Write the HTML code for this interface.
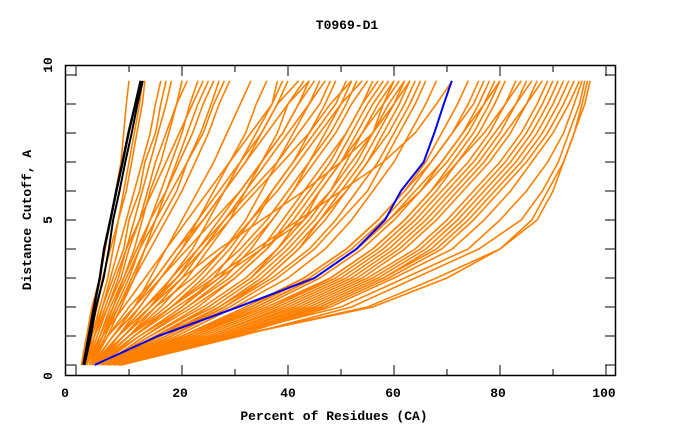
<!DOCTYPE html>
<html><head><meta charset="utf-8"><style>
html,body{margin:0;padding:0;background:#fff;}
svg{display:block;font-family:"Liberation Mono",monospace;font-weight:bold;}
</style></head><body>
<svg id="chart" width="680" height="440" viewBox="0 0 680 440" xmlns="http://www.w3.org/2000/svg">
<text x="347" y="29" font-size="13" text-anchor="middle">T0969-D1</text>
<text x="334" y="420" font-size="13" text-anchor="middle">Percent of Residues (CA)</text>
<text x="0" y="0" font-size="13" text-anchor="middle" transform="translate(31,220) rotate(-90)">Distance Cutoff, A</text>
<g id="lines"></g>
<g id="axes"></g>
</svg>
<script>
const cutoffs=[0,1,2,3,4,5,6,7,8,9,9.8];
const orangeSeries=[
[1,2,3,4.5,5.5,6.5,7.5,8.5,9,9.5,10],
[1.5,3,4.5,6,7,8,9.5,10.5,11.5,12.5,13],
[2,3.5,5,6.5,8,9.5,11,12.5,14,15,16],
[2,4,6,8,9.5,11,12.5,14,15.5,17,18],
[2.5,5,7,9,11,12.5,14,16,17.5,19,20],
[2,4.5,7,9.5,12,14,16,18,20,21.5,23],
[3,6,8.5,11,13,15,17,19.5,22,24,26],
[2.5,5,8,10.5,13,16,19,21,24,26,28],
[3,5.5,8,11,14,17,20,22.5,25,27,29],
[1.5,3.5,5.5,7.5,9.5,12,14.5,17,19.5,22,24],
[2,3,5,7,9,10,12,13,15,16,17],
[1.5,2.5,4,5,6.5,8,9,10,11,12,12.5],
[2,3.5,6,8.5,10,12,13.5,15,17,19,21],
[2.5,4.5,6.5,9,11.5,14,17,19,21,23,25],
[3,5,7.5,10,12,15,18,21,23.5,25.5,27],
[3,7,11,14,17,20,23,26,28.5,31,33],
[3,7,12,16,20,23,26,29,32,34,36],
[3.5,9,14,18,22,25,28,31,35,38,40],
[4,8,12,16,20,24,28,32,35,38,42],
[3.5,10,16,21,25,29,32,35,38,40,43],
[4,10,17,23,28,32,35,38,41,44,47],
[4,12,20,26,30,34,37,41,44,47,49],
[4.5,11,18,24,29,33,37,41,45,49,51],
[5,13,21,28,33,37,41,44,48,51,53],
[4,12,20,27,32,37,41,45,49,52,55],
[5,14,23,30,36,40,44,48,51,54,57],
[5,13,22,30,36,41,45,49,52,55,58],
[5.5,16,25,33,39,44,48,51,54,57,60],
[5,15,26,34,40,45,49,53,56,59,62],
[6,17,27,36,42,47,51,55,59,62,64],
[6,18,29,38,45,50,55,58,61,64,66],
[6,19,30,40,47,52,56,60,63,66,68],
[2,5,9,13,17,21,25,29,33,37,39],
[3,6,10,15,19,24,28,32,36,40,44],
[2.5,6,11,16,21,26,31,35,39,42,45],
[3,8,13,19,24,29,34,39,44,48,52],
[4,10,18,26,34,42,50,58,64,68,71],
[3,8,14,20,27,35,43,50,56,60,62],
[4,11,19,27,35,43,48,52,56,58,60],
[3,9,15,22,28,33,38,42,46,50,54],
[4,11,18,25,31,36,40,44,47,50,52],
[4.5,12,21,29,35,39,43,47,51,54,56],
[5,14,24,32,38,43,46,50,53,56,59],
[5,15,25,33,38,42,46,50,54,58,61],
[5.5,17,28,37,44,49,53,57,60,63,65],
[3.5,8,13,18,23,28,33,38,42,46,48],
[4,9,14,19,23,27,31,35,39,42,44],
[3,7,11,15,19,23,27,31,34,37,38],
[4,10,15,20,24,28,32,36,40,44,46],
[6,18,28,36,42,46,50,54,57,60,63],
[5,16,27,35,41,46,51,55,58,61,63],
[7,20,32,43,51,57,62,66,69,72,74],
[6,20,33,44,52,58,63,67,71,74,76],
[7,22,35,46,54,60,65,69,73,76,78],
[7,22,36,48,56,62,67,71,75,78,80],
[8,23,37,49,57,63,68,72,76,79,81],
[8,25,40,52,60,66,71,76,80,83,85],
[8,26,42,54,62,68,73,78,82,85,87],
[8,27,43,55,64,70,75,80,84,87,89],
[8.5,28,45,57,66,72,77,82,86,89,91],
[8,29,46,58,68,74,79,84,88,91,93],
[8.5,30,48,60,71,77,82,86,90,93,95],
[8.5,31,52,64,76,84,88,91,93,95,96],
[8.5,30,55,68,80,86,89,92,94,96,97],
[8,30,56,70,80,87,90,92,94,95.5,96.5],
[7,24,38,50,58,64,69,74,78,81,83],
[6,21,34,45,53,59,64,69,73,77,79],
[7,23,37,48,56,62,67,72,77,81,84],
[7.5,25,39,51,59,65,70,75,79,83,86],
[8,26,41,53,61,67,72,77,81,85,88],
[8,27,44,56,65,71,76,81,85,88,90],
[8,28,46,58,67,73,78,83,87,90,92],
[8.5,29,47,59,69,75,80,85,89,92,94],
[7,22,34,45,53,59,65,70,74,77,80],
[6.5,21,33,43,51,57,62,67,71,75,77],
[8,28,50,62,74,80,85,89,92,94,95.5]
];
const blueSeries=[3.5,15.5,30.6,45,52.9,58.3,61.3,65.6,67.6,69.4,70.9];
const blackSeries1=[1.4,2.4,3.4,4.5,5.3,6.5,7.6,8.8,9.9,11.2,12.2];
const blackSeries2=[1.6,2.8,3.8,5.2,6.2,7.0,8.2,9.3,10.5,11.6,12.6];
const xTickLabels=["0","20","40","60","80","100"];
const yTickLabels=["0","5","10"];

const NS="http://www.w3.org/2000/svg";
function xs(v){return 76+5.3*v;}
function ys(v){return 365-29*v;}
const lines=document.getElementById('lines');
const axes=document.getElementById('axes');
function drawSeries(vals,color,w,name){
  const p=document.createElementNS(NS,'polyline');
  p.setAttribute('points',vals.map((v,i)=>xs(v).toFixed(1)+','+ys(cutoffs[i]).toFixed(1)).join(' '));
  p.setAttribute('fill','none');
  p.setAttribute('stroke',color);
  p.setAttribute('stroke-width',w);
  
  
  lines.appendChild(p);
}
orangeSeries.forEach(s=>drawSeries(s,'#ff8000',1.6,'model-line'));
drawSeries(blackSeries1,'#000',2.5,'best-model-line');
drawSeries(blackSeries2,'#000',2,'best-model-line');
drawSeries(blueSeries,'#0000ff',2,'target-model-line');

function mk(tag,attrs){const e=document.createElementNS(NS,tag);for(const k in attrs)e.setAttribute(k,attrs[k]);axes.appendChild(e);return e;}
const frame=mk('rect',{x:65.5,y:65.5,width:550,height:310,fill:'none',stroke:'#000','stroke-width':1.5});


for(let k=0;k<=10;k++){
  const x=xs(k*10), len=(k%2===0)?10:6;
  const t1=mk('line',{x1:x,y1:375,x2:x,y2:375-len,stroke:'#000','stroke-width':1});
  
  
  const t2=mk('line',{x1:x,y1:66,x2:x,y2:66+len,stroke:'#000','stroke-width':1});
  
  
}
for(let k=0;k<=10;k++){
  const y=75+29*k;
  const t1=mk('line',{x1:66,y1:y,x2:76,y2:y,stroke:'#000','stroke-width':1});
  
  
  const t2=mk('line',{x1:605,y1:y,x2:615,y2:y,stroke:'#000','stroke-width':1});
  
  
}
const xLabelPos=[65,180,288,393,498,604];
xTickLabels.forEach((s,i)=>{
  const t=mk('text',{x:xLabelPos[i],y:397,'font-size':13,'text-anchor':'middle'});
  t.textContent=s;
  
  
});
const yLabelPos=[376,220,65];
yTickLabels.forEach((s,i)=>{
  const t=mk('text',{x:0,y:0,'font-size':13,'text-anchor':'middle',transform:'translate(52,'+yLabelPos[i]+') rotate(-90)'});
  t.textContent=s;
  
  
});
</script>
</body></html>
